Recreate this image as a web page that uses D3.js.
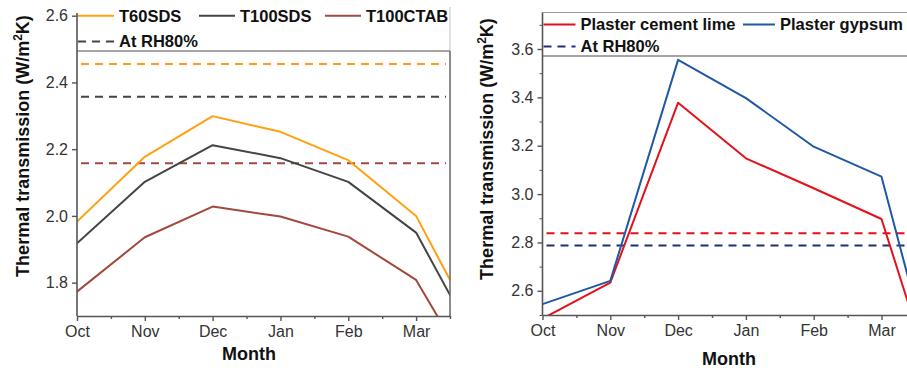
<!DOCTYPE html>
<html><head><meta charset="utf-8">
<script src="https://cdn.jsdelivr.net/npm/d3@7"></script>
<style>
body{margin:0;background:#fff;}
svg{display:block;font-family:"Liberation Sans",Arial,Helvetica,sans-serif;}
</style></head><body>
<svg id="chart" width="907" height="370"></svg>
<script>
// Months along the heating season (last entry sits just past the right frame)
const months = ["Oct","Nov","Dec","Jan","Feb","Mar","Apr"];
const monthTicks = ["Oct","Nov","Dec","Jan","Feb","Mar"];

// Left panel: coated samples, U-value in W/m²K
const t60sds   = [1.983, 2.177, 2.299, 2.252, 2.167, 2.000, 1.616];
const t100sds  = [1.918, 2.102, 2.212, 2.173, 2.102, 1.950, 1.576];
const t100ctab = [1.773, 1.936, 2.028, 1.998, 1.938, 1.808, 1.463];
const rh80Left = [2.455, 2.357, 2.158];   // T60SDS, T100SDS, T100CTAB at RH80%
const leftYTicks = [1.8, 2.0, 2.2, 2.4, 2.6];

// Right panel: plaster references
const plasterLime   = [2.485, 2.634, 3.378, 3.148, 3.024, 2.897, 2.015];
const plasterGypsum = [2.545, 2.641, 3.555, 3.397, 3.196, 3.072, 2.010];
const rh80Right = [2.838, 2.787];         // cement lime, gypsum at RH80%
const rightYTicks = [2.6, 2.8, 3.0, 3.2, 3.4, 3.6];
const rightYMinor = [2.5, 2.7, 2.9, 3.1, 3.3, 3.5, 3.7];

const svg = d3.select("#chart");
const AXIS = "#555";
const TXT = "#333";

function panel(cfg) {
  const g = svg.append("g");
  const x = d3.scaleLinear().domain([0, 5.5]).range([cfg.left, cfg.right]);
  const y = d3.scaleLinear().domain(cfg.yDomain).range([cfg.bottom, cfg.yTopPx]);
  const clipId = cfg.id + "-clip";
  svg.append("defs").append("clipPath").attr("id", clipId)
    .append("rect").attr("x", cfg.left).attr("y", cfg.top)
    .attr("width", cfg.right - cfg.left).attr("height", cfg.bottom - cfg.top);

  const plot = g.append("g").attr("clip-path", `url(#${clipId})`);

  // RH80% reference levels
  cfg.refs.forEach(r => {
    plot.append("line")
      .attr("x1", cfg.left + 4).attr("x2", cfg.right - 4)
      .attr("y1", y(r.value)).attr("y2", y(r.value))
      .attr("stroke", r.color).attr("stroke-width", 2)
      .attr("stroke-dasharray", "8,6");
  });

  // monthly series
  const line = d3.line().x((d, i) => x(i)).y(d => y(d));
  cfg.series.forEach(s => {
    plot.append("path").datum(s.values)
      .attr("d", line).attr("fill", "none")
      .attr("stroke", s.color).attr("stroke-width", 2)
      .attr("stroke-linejoin", "round");
  });

  // legend box (white, sits over the top of the frame)
  const lg = g.append("g");
  lg.append("rect").attr("x", cfg.left).attr("y", cfg.legendTop)
    .attr("width", cfg.right - cfg.left).attr("height", cfg.top - cfg.legendTop)
    .attr("fill", "#fff");
  if (cfg.legendTopBorder) {
    lg.append("line").attr("x1", cfg.left).attr("x2", cfg.right)
      .attr("y1", cfg.legendTop).attr("y2", cfg.legendTop)
      .attr("stroke", "#999").attr("stroke-width", 1.2);
  }
  lg.append("line").attr("x1", cfg.right).attr("x2", cfg.right)
    .attr("y1", cfg.legendTop).attr("y2", cfg.top)
    .attr("stroke", "#ccc").attr("stroke-width", 1.2);
  lg.append("line").attr("x1", cfg.left).attr("x2", cfg.right)
    .attr("y1", cfg.top).attr("y2", cfg.top)
    .attr("stroke", "#888").attr("stroke-width", 1.4);

  cfg.legend.forEach(it => {
    lg.append("line").attr("x1", it.x).attr("x2", it.x + cfg.sampleLen)
      .attr("y1", it.y).attr("y2", it.y)
      .attr("stroke", it.color).attr("stroke-width", 2)
      .attr("stroke-dasharray", it.dashed ? "8,6" : null);
    lg.append("text").attr("x", it.x + cfg.sampleLen + 5).attr("y", it.y)
      .attr("dy", "0.36em").attr("font-size", cfg.legendSize).attr("font-weight", "bold")
      .attr("fill", "#111").text(it.label);
  });

  // right frame edge below the legend
  g.append("line").attr("x1", cfg.right).attr("x2", cfg.right)
    .attr("y1", cfg.top).attr("y2", cfg.bottom)
    .attr("stroke", "#666").attr("stroke-width", 1.5);

  // x axis
  const xAxis = d3.axisBottom(x).tickValues(d3.range(0, 6)).tickSize(5)
    .tickFormat(i => monthTicks[i]).tickSizeOuter(0);
  const xg = g.append("g").attr("transform", `translate(0,${cfg.bottom})`).call(xAxis);
  const xMinor = d3.axisBottom(x).tickValues(d3.range(0.5, 6, 1)).tickSize(3)
    .tickFormat("").tickSizeOuter(0);
  const xmg = g.append("g").attr("transform", `translate(0,${cfg.bottom})`).call(xMinor);
  xmg.select(".domain").remove();

  // y axis
  const yAxis = d3.axisLeft(y).tickValues(cfg.yTicks).tickSize(5)
    .tickFormat(d3.format(".1f")).tickSizeOuter(0);
  const yg = g.append("g").attr("transform", `translate(${cfg.left},0)`).call(yAxis);
  yg.select(".domain").attr("d", `M0,${cfg.axisTop}V${cfg.bottom}`);
  if (cfg.yMinor) {
    const ym = g.append("g").attr("transform", `translate(${cfg.left},0)`)
      .call(d3.axisLeft(y).tickValues(cfg.yMinor).tickSize(3).tickFormat("").tickSizeOuter(0));
    ym.select(".domain").remove();
  }

  [xg, xmg, yg].forEach(a => {
    a.selectAll(".domain").attr("stroke", AXIS).attr("stroke-width", 1.6);
    a.selectAll(".tick line").attr("stroke", AXIS).attr("stroke-width", 1.4);
    a.selectAll(".tick text").attr("fill", TXT).attr("font-size", 16)
      .attr("font-family", '"Liberation Sans",Arial,sans-serif');
  });
  svg.selectAll(".tick line").attr("stroke", AXIS);
  xg.selectAll(".tick text").attr("y", 10).attr("dy", "0.71em");
  yg.selectAll(".tick text").attr("x", -9);

  // axis titles
  g.append("text").attr("x", cfg.monthX).attr("y", cfg.monthY)
    .attr("text-anchor", "middle").attr("font-size", 18).attr("font-weight", "bold")
    .attr("fill", "#111").text("Month");
  const yt = g.append("text")
    .attr("transform", `translate(${cfg.yTitleX},${cfg.yTitleY}) rotate(-90)`)
    .attr("text-anchor", "middle").attr("font-size", 18).attr("font-weight", "bold")
    .attr("fill", "#111");
  yt.append("tspan").text("Thermal transmission (W/m");
  yt.append("tspan").attr("font-size", 12).attr("dy", -7).text("2");
  yt.append("tspan").attr("dy", 7).text("K)");
}

panel({
  id: "left", left: 77, right: 450, bottom: 316, top: 51, legendTop: 7,
  yDomain: [1.7, 2.6], yTopPx: 15.7, axisTop: 13,
  yTicks: leftYTicks, yMinor: null,
  series: [
    { values: t60sds, color: "#FFA010" },
    { values: t100sds, color: "#444444" },
    { values: t100ctab, color: "#A2483C" }
  ],
  refs: [
    { value: rh80Left[0], color: "#FFA010" },
    { value: rh80Left[1], color: "#444444" },
    { value: rh80Left[2], color: "#A2483C" }
  ],
  legend: [
    { x: 78, y: 15.7, color: "#FFA010", label: "T60SDS" },
    { x: 199, y: 15.7, color: "#444444", label: "T100SDS" },
    { x: 325, y: 15.7, color: "#A2483C", label: "T100CTAB" },
    { x: 78, y: 41.5, color: "#444444", label: "At RH80%", dashed: true }
  ],
  sampleLen: 36, legendSize: 16.5, legendTopBorder: false,
  monthX: 249, monthY: 360, yTitleX: 29, yTitleY: 146
});

panel({
  id: "right", left: 542.5, right: 915.4, bottom: 315, top: 56, legendTop: 12.5,
  yDomain: [2.5, 3.6], yTopPx: 49, axisTop: 12.5,
  yTicks: rightYTicks, yMinor: rightYMinor,
  series: [
    { values: plasterLime, color: "#E3111B" },
    { values: plasterGypsum, color: "#1F58A5" }
  ],
  refs: [
    { value: rh80Right[0], color: "#E3111B" },
    { value: rh80Right[1], color: "#1D2F78" }
  ],
  legend: [
    { x: 543.5, y: 24.5, color: "#E3111B", label: "Plaster cement lime" },
    { x: 743, y: 24.5, color: "#1F58A5", label: "Plaster gypsum" },
    { x: 543.5, y: 46.5, color: "#1D2F78", label: "At RH80%", dashed: true }
  ],
  sampleLen: 32, legendSize: 16.5, legendTopBorder: true,
  monthX: 729, monthY: 365, yTitleX: 493, yTitleY: 149
});
</script>
</body></html>
